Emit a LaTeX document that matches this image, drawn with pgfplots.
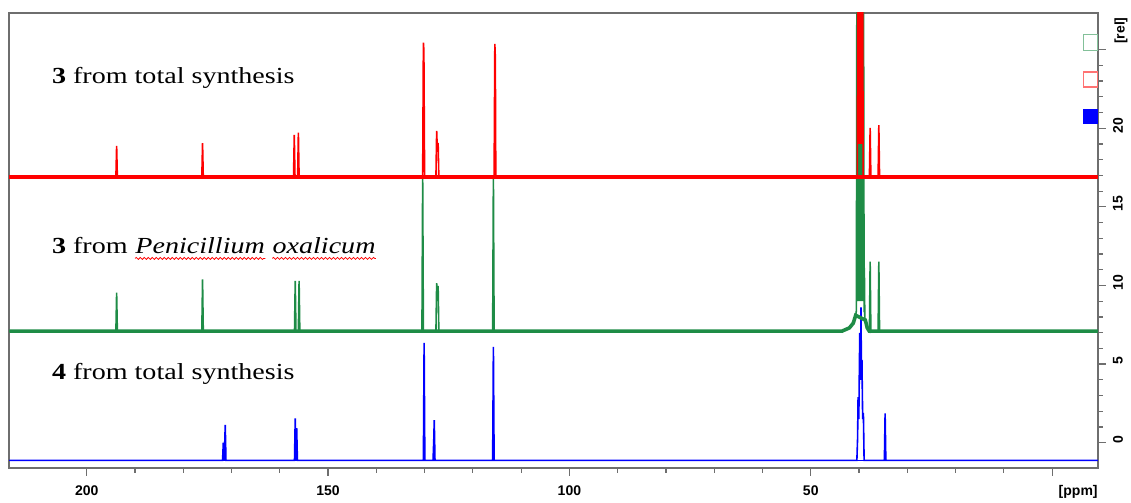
\documentclass[border=0pt]{standalone}
\usepackage{fontspec}
\setmainfont{Liberation Serif}
\newfontfamily\labelfont[FakeStretch=1.22]{Liberation Serif}
\newfontfamily\tickfont{Liberation Sans}
\usepackage{pgfplots}
\pgfplotsset{compat=1.18}
\usetikzlibrary{decorations.pathmorphing}

\definecolor{specred}{RGB}{255,0,0}
\definecolor{specgreen}{RGB}{30,140,70}
\definecolor{specblue}{RGB}{0,0,255}
\definecolor{frame}{RGB}{110,110,110}

\begin{document}
\begin{tikzpicture}
\begin{axis}[
    name=ax,
    scale only axis,
    width=544.5pt, height=227.5pt,
    x dir=reverse,
    xmin=-9.5, xmax=216.1,
    ymin=-1.61, ymax=27.33,
    axis line style={frame, line width=0.6pt},
    tick style={frame, line width=0.6pt},
    tick align=outside,
    major tick length=4pt,
    minor tick length=2.5pt,
    xtick={0,50,100,150,200},
    xticklabels={,50,100,150,200},
    minor x tick num=4,
    xtick pos=bottom,
    ytick={0,5,10,15,20,25},
    yticklabels={0,5,10,15,20,},
    minor y tick num=4,
    ytick pos=right,
    yticklabel pos=right,
    /pgf/number format/assume math mode=true,
    ticklabel style={font=\tickfont\bfseries\fontsize{7}{8}\selectfont},
    xticklabel style={yshift=-1.5pt},
    yticklabel style={rotate=90, anchor=north, xshift=1.5pt},
    clip=true,
]

% 4 from total synthesis (blue)
\addplot[specblue, line width=0.9pt] coordinates {(216,-1.13) (-9.5,-1.13)};
\addplot[specblue, line width=0.8pt] coordinates {
(216,-1.13)
(171.85,-1.13)(171.7,0.0)(171.5,-1.13)(171.3,1.13)(171.15,-1.13)
(156.95,-1.13)(156.8,1.55)(156.65,-1.13)(156.5,0.93)(156.35,-1.13)
(130.25,-1.13)(130.1,6.34)(129.95,-1.13)
(128.25,-1.13)(128.1,0.17)(128.0,1.44)(127.85,-1.13)
(115.9,-1.13)(115.75,6.09)(115.6,-1.13)
(40.45,-1.13)(40.3,0.3)(40.2,2.9)(40.05,1.5)(39.85,6.98)(39.7,4.0)(39.6,8.61)(39.5,4.0)(39.4,5.26)(39.25,1.5)(39.1,1.9)(38.95,-1.13)
(34.75,-1.13)(34.6,1.87)(34.45,-1.13)
(-9.5,-1.13)
};

% 3 from Penicillium oxalicum (green)
\addplot[specgreen, line width=1.8pt] coordinates {
(216,7.1)(43.5,7.1)(42,7.3)(41.2,7.6)(40.7,8.1)
(38.7,7.8)(38.3,7.3)(37.9,7.1)(-9.5,7.1)};
\addplot[specgreen, line width=0.8pt] coordinates {
(216,7.1)
(193.95,7.1)(193.8,9.54)(193.65,7.1)
(176.15,7.1)(176,10.39)(175.85,7.1)
(156.95,7.1)(156.8,10.29)(156.65,7.1)
(156.15,7.1)(156.0,10.29)(155.85,7.1)
(130.55,7.1)(130.4,16.9)(130.25,7.1)
(127.65,7.1)(127.5,10.14)(127.35,9.0)(127.2,9.97)(127.05,7.1)
(115.9,7.1)(115.75,16.9)(115.6,7.1)
(43.5,7.1)(42,7.3)(41.2,7.6)(40.7,8.1)
(40.55,8.4)(40.45,30)(40.3,9)(40.1,30)(39.9,9)(39.7,30)(39.5,9)(39.3,30)(39.15,9)(39.07,30)(38.95,8.3)
(38.9,11.11)(38.8,7.8)(38.3,7.3)(37.85,7.1)(37.7,11.51)(37.55,7.1)
(36.05,7.1)(35.9,11.51)(35.75,7.1)
(-9.5,7.1)
};

% 3 from total synthesis (red)
\addplot[specred, line width=1.8pt] coordinates {(216,16.9) (-9.5,16.9)};
\addplot[specred, line width=0.8pt] coordinates {
(216,16.9)
(193.95,16.9)(193.8,18.87)(193.65,16.9)
(176.15,16.9)(176,19.05)(175.85,16.9)
(157.15,16.9)(157.0,19.57)(156.85,16.9)
(156.3,16.9)(156.15,19.72)(156.0,16.9)
(130.4,16.9)(130.25,25.45)(130.15,24.97)(130.0,16.9)
(127.65,16.9)(127.5,19.83)(127.35,18.5)(127.2,19.07)(127.05,16.9)
(115.6,16.9)(115.45,25.36)(115.35,24.5)(115.25,16.9)
(40.35,16.9)(40.25,30)(40.15,19)(40.05,30)(39.95,19)(39.85,30)(39.75,19)(39.65,30)(39.55,19)(39.45,30)(39.35,19)(39.25,30)(39.15,16.9)
(37.85,16.9)(37.7,20.02)(37.55,16.9)
(36.05,16.9)(35.9,20.2)(35.75,16.9)
(-9.5,16.9)
};

% spectrum indicators
\draw[specgreen!55, line width=0.6pt] (axis cs:-6.45,25.97) rectangle (axis cs:-9.5,24.95);
\draw[specred!55, line width=0.6pt] (axis cs:-6.45,23.58) rectangle (axis cs:-9.5,22.62);
\fill[specblue] (axis cs:-6.45,21.2) rectangle (axis cs:-9.5,20.27);

% labels
\node[anchor=base west, inner sep=0pt, font=\labelfont\fontsize{11.5}{13}\selectfont]
  at (axis cs:207.25,22.86) {\textbf{3} from total synthesis};
\node[anchor=base west, inner sep=0pt, font=\labelfont\fontsize{11.5}{13}\selectfont]
  (p1) at (axis cs:207.25,12.05) {\textbf{3} from};
\node[anchor=base west, inner sep=0pt, font=\labelfont\fontsize{11.5}{13}\selectfont\itshape]
  (p2) at ([xshift=3.5pt]p1.base east) {Penicillium};
\node[anchor=base west, inner sep=0pt, font=\labelfont\fontsize{11.5}{13}\selectfont\itshape]
  (p3) at ([xshift=3.5pt]p2.base east) {oxalicum};
\draw[red, line width=0.4pt, decorate, decoration={snake, amplitude=0.5pt, segment length=2pt}]
  ([yshift=-2.6pt]p2.base west) -- ([yshift=-2.6pt]p2.base east);
\draw[red, line width=0.4pt, decorate, decoration={snake, amplitude=0.5pt, segment length=2pt}]
  ([yshift=-2.6pt]p3.base west) -- ([yshift=-2.6pt]p3.base east);
\node[anchor=base west, inner sep=0pt, font=\labelfont\fontsize{11.5}{13}\selectfont]
  at (axis cs:207.25,3.99) {\textbf{4} from total synthesis};
\end{axis}

\node[anchor=north east, inner sep=0pt, font=\tickfont\bfseries\fontsize{7}{8}\selectfont]
  at ([yshift=-8.5pt]ax.south east) {[ppm]};
\node[rotate=90, anchor=north east, inner sep=0pt, font=\tickfont\bfseries\fontsize{7}{8}\selectfont]
  at ([xshift=8pt,yshift=-2pt]ax.north east) {[rel]};
\path ([shift={(-4.5pt,-16.5pt)}]ax.south west) rectangle ([shift={(16.5pt,6.5pt)}]ax.north east);
\end{tikzpicture}
\end{document}
